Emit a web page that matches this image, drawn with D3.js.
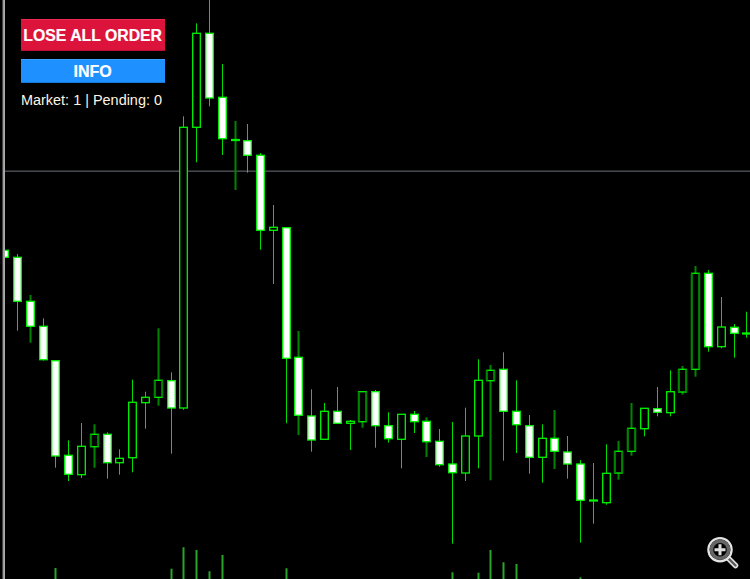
<!DOCTYPE html>
<html><head><meta charset="utf-8">
<script src="https://cdn.jsdelivr.net/npm/d3@7"></script>
<style>html,body{margin:0;padding:0;background:#000;overflow:hidden}svg{display:block}</style>
</head><body><svg id="c" width="750" height="579"></svg>
<script>
const opens=[328.7,321.7,277.7,252.7,218.3,123.7,104.3,132.3,144.7,116.3,121.3,176.3,181.7,198.3,171,451.7,545.7,481.7,438.5,438.3,423.7,348.7,351.3,221.7,163,139.7,167.7,155.7,157.3,187.3,153.3,139.7,164.7,157.7,137.7,115,106,143,198.3,209.7,167.7,153.3,121.7,140.7,127,115,79,76.3,106,127.7,150.3,170.3,166.3,187,209.7,305.7,232.3,251.7,245];
const closes=[321.7,277.7,252.7,219.3,123,104.7,132.7,144.7,116.3,120.7,176.7,181.7,198.7,171,451.7,545.7,481,440.3,439.5,423.7,348.7,351.7,220.7,163.7,139,167.7,155.7,157.7,187.3,153.3,140.3,164.7,157.3,137.3,114.3,106.3,143,198.7,208.7,167.7,154.3,121.7,140.7,127.7,115,78.7,78,105.7,127.7,150.7,170.7,166.7,187.3,209.7,305.7,232.3,252,245.7,246];
const highs=[328.7,325,284,260.7,218.3,138.7,156,154.7,146.7,129.7,199.3,187.3,250.7,206.7,462.7,555.7,584,515,458,455,426,374,351.3,248,189.7,176,192,159,188,189,166.7,164.7,168,161.7,150,157,171.3,219.7,214,226.7,198.7,164,154.7,169,143,119,116,134.7,138,176,170.7,192,208.7,213,313,309,282,255,267.3];
const lows=[321.7,248.3,236.3,218.5,111.3,98,101,111.3,100.3,104.3,106.7,150.3,173.3,125.3,169.3,416.7,472.7,424,389,406.3,329.3,295,155.7,144,127.3,139.7,155.7,129,151.3,131.3,136.3,110.7,146,122,112.3,35.3,98,110.7,98.7,118.3,126,105.3,96.3,110,100.3,36.3,55.3,74.3,99.3,123.3,142.7,162.7,162.7,184.3,202.3,227.3,230.7,221.3,241.3];
const softCandles=[2,7,12,18,23,28,33,38,43,48,49,53,54];
const volumeBars=[[4,11],[13,10.3],[14,31.7],[15,29],[16,7.7],[17,24],[22,10.7],[35,6.7],[37,6.3],[38,29],[39,16.7],[40,15],[45,1.7]];
const buttonLabels=["LOSE ALL ORDER","INFO"];
const statusText="Market: 1 | Pending: 0";

const svg=d3.select("#c");
const x=d3.scaleLinear().domain([0,58]).range([4.7,746.8]);
const y=d3.scaleLinear().domain([0,579]).range([579,0]);
const v=d3.scaleLinear().domain([0,40]).range([579,539]);
const GREEN="#00f400",DIM="#008400",WICK="#00dc00";
const cx=i=>Math.floor(x(i));

svg.append("rect").attr("width",750).attr("height",579).attr("fill","#000");
svg.append("defs").append("clipPath").attr("id","plot").append("rect").attr("x",5).attr("y",0).attr("width",745).attr("height",579);
const plot=svg.append("g").attr("clip-path","url(#plot)");

// current price line
plot.append("rect").attr("x",0).attr("y",170.4).attr("width",750).attr("height",1.6).attr("fill","#43464b");

// volume bars
plot.selectAll("rect.vol").data(volumeBars).join("rect").attr("class","vol")
 .attr("x",d=>cx(d[0])-.5).attr("width",2).attr("y",d=>v(d[1])).attr("height",d=>579-v(d[1])).attr("fill","#2aa52a");

const idx=d3.range(opens.length);
const soft=i=>softCandles.includes(i);
// wicks
plot.selectAll("rect.wick").data(idx).join("rect").attr("class","wick")
 .attr("x",i=>soft(i)?cx(i)-.5:cx(i)).attr("width",i=>soft(i)?2:1)
 .attr("y",i=>y(highs[i])).attr("height",i=>y(lows[i])-y(highs[i]))
 .attr("fill",i=>soft(i)?DIM:WICK);
// bodies
const bw=7.6;
plot.selectAll("rect.body").data(idx).join("rect").attr("class","body")
 .attr("x",i=>cx(i)+.5-bw/2).attr("width",bw)
 .attr("y",i=>y(Math.max(opens[i],closes[i])))
 .attr("height",i=>Math.abs(y(opens[i])-y(closes[i])))
 .attr("fill",i=>closes[i]>opens[i]?"#000":"#fff")
 .attr("stroke",GREEN).attr("stroke-width",1.3);
// soft sides on hollow candles
const softHollow=idx.filter(i=>soft(i)&&closes[i]>opens[i]&&closes[i]-opens[i]>3);
[-1,1].forEach(s=>{
 plot.selectAll("rect.side"+s).data(softHollow).join("rect").attr("class","side"+s)
  .attr("x",i=>cx(i)+.5+s*bw/2-1).attr("width",2)
  .attr("y",i=>y(closes[i])).attr("height",i=>y(opens[i])-y(closes[i])).attr("fill",DIM);
});

// left edge of window
svg.append("rect").attr("x",2.5).attr("y",0).attr("width",1).attr("height",579).attr("fill","#8a8a8a");
svg.append("rect").attr("x",3.5).attr("y",0).attr("width",1.2).attr("height",579).attr("fill","#f4f4f4");

// buttons
const btn=[{y:19,h:32,f:"#dc143c",t:"#f0284f",b:"#b80f30",ty:40.5,s:15.8},{y:59,h:24,f:"#1e90ff",t:"#3aa0ff",b:"#1878d8",ty:76.5,s:16}];
btn.forEach((b,i)=>{
 svg.append("rect").attr("x",21).attr("y",b.y).attr("width",144).attr("height",b.h).attr("fill",b.f);
 svg.append("rect").attr("x",21).attr("y",b.y).attr("width",144).attr("height",1).attr("fill",b.t);
 svg.append("rect").attr("x",21).attr("y",b.y+b.h-1).attr("width",144).attr("height",1).attr("fill",b.b);
 svg.append("text").attr("x",92.7).attr("y",b.ty).attr("text-anchor","middle")
  .attr("font-family","Liberation Sans").attr("font-weight","bold").attr("font-size",b.s).attr("fill","#fff").attr("stroke","#fff").attr("stroke-width",.2).text(buttonLabels[i]);
});
svg.append("text").attr("x",21).attr("y",105).attr("font-family","Liberation Sans").attr("font-size",14.45).attr("fill","#fff5e0").text(statusText);

// zoom icon
const ic=svg.append("g").attr("fill","none");
ic.append("line").attr("x1",728).attr("y1",558).attr("x2",735.5).attr("y2",565.5).attr("stroke","#e0e0e0").attr("stroke-width",5.5).attr("stroke-linecap","round");
ic.append("line").attr("x1",728).attr("y1",558).attr("x2",735.5).attr("y2",565.5).attr("stroke","#5a5a5a").attr("stroke-width",2.4).attr("stroke-linecap","round");
ic.append("circle").attr("cx",720).attr("cy",549.7).attr("r",11.6).attr("stroke","#e4e4e4").attr("stroke-width",2.3).attr("fill","#000");
ic.append("circle").attr("cx",720).attr("cy",549.7).attr("r",8.6).attr("stroke","#666").attr("stroke-width",3.6);
ic.append("path").attr("d","M720 544.2V555.2M714.5 549.7H725.5").attr("stroke","#ddd").attr("stroke-width",3);
</script></body></html>
